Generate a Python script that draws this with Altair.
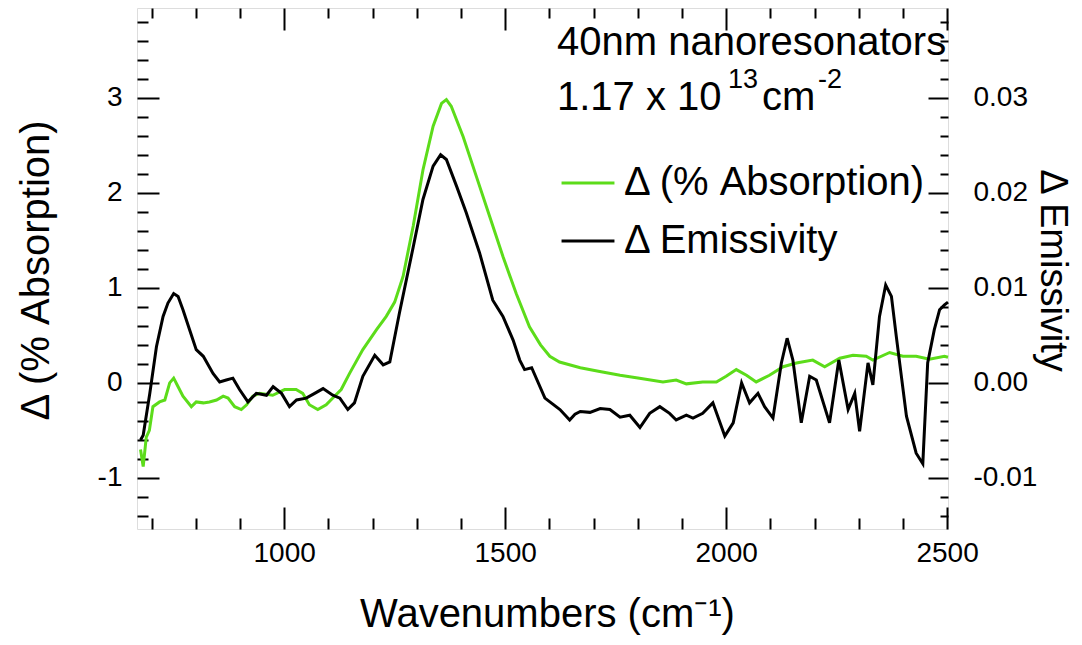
import altair as alt
import pandas as pd

# ---------------- data ----------------
ABS_WN = [675, 681, 688, 695, 703, 718, 730, 741, 750, 760, 771, 790, 801, 817, 831, 847, 862, 873, 888,
          903, 915, 929, 944, 974, 1001, 1027, 1042, 1057, 1076, 1095, 1114, 1129, 1148, 1178, 1209, 1231,
          1250, 1269, 1292, 1314, 1337, 1356, 1367, 1378, 1405, 1435, 1465, 1495, 1525, 1555, 1580, 1601,
          1623, 1670, 1714, 1760, 1804, 1857, 1887, 1910, 1947, 1978, 2000, 2023, 2046, 2068, 2098, 2129,
          2159, 2196, 2223, 2257, 2287, 2317, 2332, 2370, 2400, 2430, 2460, 2494, 2502]
ABS_VAL = [-0.70, -0.88, -0.57, -0.50, -0.25, -0.20, -0.18, 0.00, 0.05, -0.04, -0.14, -0.25, -0.20, -0.21,
           -0.20, -0.18, -0.14, -0.16, -0.25, -0.28, -0.23, -0.14, -0.11, -0.13, -0.07, -0.07, -0.11, -0.23,
           -0.28, -0.23, -0.14, -0.07, 0.10, 0.35, 0.56, 0.70, 0.85, 1.12, 1.65, 2.24, 2.70, 2.94, 2.98, 2.91,
           2.59, 2.17, 1.75, 1.33, 0.94, 0.59, 0.40, 0.28, 0.22, 0.16, 0.12, 0.08, 0.05, 0.01, 0.03, -0.01,
           0.01, 0.01, 0.07, 0.14, 0.08, 0.01, 0.08, 0.17, 0.21, 0.24, 0.17, 0.26, 0.29, 0.28, 0.24, 0.32,
           0.28, 0.28, 0.25, 0.28, 0.27]

EMI_WN = [675, 681, 696, 711, 726, 737, 750, 760, 771, 786, 801, 817, 839, 854, 869, 884, 899, 918, 937,
          960, 975, 994, 1012, 1028, 1050, 1069, 1088, 1110, 1126, 1144, 1159, 1178, 1205, 1224, 1239, 1261,
          1292, 1314, 1337, 1354, 1367, 1390, 1412, 1442, 1472, 1495, 1518, 1533, 1544, 1560, 1590, 1624,
          1646, 1658, 1670, 1692, 1715, 1737, 1760, 1782, 1805, 1827, 1850, 1872, 1887, 1910, 1925, 1947,
          1970, 1997, 2016, 2035, 2053, 2072, 2087, 2106, 2125, 2138, 2151, 2170, 2189, 2204, 2234, 2255,
          2276, 2291, 2302, 2321, 2332, 2347, 2361, 2374, 2385, 2408, 2430, 2445, 2456, 2471, 2483, 2494,
          2502]
EMI_VAL = [-0.0060, -0.0055, -0.0011, 0.0038, 0.0070, 0.0084, 0.0094, 0.0091, 0.0077, 0.0056, 0.0035,
           0.0028, 0.0010, 0.0001, 0.0003, 0.0005, -0.0007, -0.0020, -0.0011, -0.0013, -0.0004, -0.0011,
           -0.0025, -0.0018, -0.0016, -0.0011, -0.0006, -0.0013, -0.0016, -0.0028, -0.0021, 0.0007, 0.0029,
           0.0019, 0.0022, 0.0074, 0.0143, 0.0193, 0.0228, 0.0240, 0.0235, 0.0207, 0.0179, 0.0137, 0.0087,
           0.0070, 0.0045, 0.0024, 0.0014, 0.0016, -0.0016, -0.0028, -0.0039, -0.0033, -0.0030, -0.0031,
           -0.0027, -0.0028, -0.0036, -0.0034, -0.0047, -0.0032, -0.0025, -0.0032, -0.0039, -0.0034,
           -0.0037, -0.0032, -0.0021, -0.0056, -0.0042, 0.0000, -0.0021, -0.0011, -0.0025, -0.0037, 0.0021,
           0.0047, 0.0024, -0.0042, 0.0007, 0.0003, -0.0042, 0.0024, -0.0028, -0.0011, -0.0051, 0.0021,
           -0.0002, 0.0070, 0.0103, 0.0091, 0.0049, -0.0035, -0.0074, -0.0085, 0.0021, 0.0056, 0.0077,
           0.0082, 0.0085]

SERIES = ["\u0394 (% Absorption)", "\u0394 Emissivity"]
COLORS = ["#5cdc1a", "#000000"]

X_DOMAIN = [667, 2502]
YL_DOMAIN = [-1.537, 3.944]
YR_DOMAIN = [-0.01537, 0.03944]

X_MAJOR = [1000, 1500, 2000, 2500]
X_MINOR = [700, 800, 900, 1100, 1200, 1300, 1400, 1600, 1700, 1800, 1900, 2100, 2200, 2300, 2400]
YL_MAJOR = [-1, 0, 1, 2, 3]
YL_MINOR = [-1.4, -1.2, -0.8, -0.6, -0.4, -0.2, 0.2, 0.4, 0.6, 0.8, 1.2, 1.4, 1.6, 1.8,
            2.2, 2.4, 2.6, 2.8, 3.2, 3.4, 3.6, 3.8]
YR_MAJOR = [-0.01, 0.0, 0.01, 0.02, 0.03]

W, H = 811, 521
FONT = "Liberation Sans"
BIG = 40

df_abs = pd.DataFrame({"wn": ABS_WN, "val": ABS_VAL, "series": SERIES[0]})
df_emi = pd.DataFrame({"wn": EMI_WN, "val": EMI_VAL, "series": SERIES[1]})

xs = alt.Scale(domain=X_DOMAIN, nice=False, zero=False)
yl = alt.Scale(domain=YL_DOMAIN, nice=False, zero=False)
yr = alt.Scale(domain=YR_DOMAIN, nice=False, zero=False)
cs = alt.Scale(domain=SERIES, range=COLORS)

legend = alt.Legend(orient="none", legendX=423, legendY=147, title=None, symbolType="stroke",
                    symbolSize=2800, symbolStrokeWidth=3, labelFontSize=BIG, labelFont=FONT,
                    labelColor="black", rowPadding=10, labelOffset=8, labelLimit=600)

green = alt.Chart(df_abs).mark_line(strokeWidth=3).encode(
    x=alt.X("wn:Q", scale=xs, axis=alt.Axis(
        orient="bottom", values=X_MAJOR, format="d", ticks=False, domain=False, grid=False,
        labelFontSize=28, labelFont=FONT, labelColor="black", labelPadding=10, labelFlush=False,
        title="Wavenumbers (cm\u207b\u00b9)", titleFontSize=BIG, titleFont=FONT, titleFontWeight="normal",
        titleColor="black", titleX=410, titleY=97, titleBaseline="alphabetic", titleAlign="center")),
    y=alt.Y("val:Q", scale=yl, axis=alt.Axis(
        orient="left", values=YL_MAJOR, ticks=False, domain=False, grid=False,
        labelFontSize=28, labelFont=FONT, labelColor="black", labelPadding=15,
        labelExpr="datum.value < 0 ? '-' + format(-datum.value, 'd') : format(datum.value, 'd')",
        title="\u0394 (% Absorption)", titleFontSize=BIG, titleFont=FONT, titleFontWeight="normal",
        titleColor="black", titleX=-89, titleY=262, titleAngle=-90, titleBaseline="alphabetic",
        titleAlign="center")),
    color=alt.Color("series:N", scale=cs, legend=legend),
)

black = alt.Chart(df_emi).mark_line(strokeWidth=3).encode(
    x=alt.X("wn:Q", scale=xs, axis=None),
    y=alt.Y("val:Q", scale=yr, axis=alt.Axis(
        orient="right", values=YR_MAJOR, ticks=False, domain=False, grid=False,
        labelFontSize=28, labelFont=FONT, labelColor="black", labelPadding=25,
        labelExpr="datum.value < 0 ? '-' + format(-datum.value, '.2f') : format(datum.value, '.2f')",
        title="\u0394 Emissivity", titleFontSize=38, titleFont=FONT, titleFontWeight="normal",
        titleColor="black", titleX=92, titleY=262, titleAngle=90, titleBaseline="alphabetic",
        titleAlign="center")),
    color=alt.Color("series:N", scale=cs, legend=legend),
)


def tick_layer(x_orient, x_vals, x_size, y_orient, y_vals, y_size):
    xa = alt.Axis(orient=x_orient, offset=-H, values=x_vals, tickSize=x_size, tickWidth=2,
                  tickColor="black", labels=False, domain=False, grid=False, title=None)
    ya = alt.Axis(orient=y_orient, offset=-W, values=y_vals, tickSize=y_size, tickWidth=2,
                  tickColor="black", labels=False, domain=False, grid=False, title=None)
    return alt.Chart(df_abs).mark_line(opacity=0).encode(
        x=alt.X("wn:Q", scale=xs, axis=xa),
        y=alt.Y("val:Q", scale=yl, axis=ya),
    )


t1 = tick_layer("top", X_MAJOR, 22, "right", YL_MAJOR, 22)     # bottom & left, major
t2 = tick_layer("top", X_MINOR, 11, "right", YL_MINOR, 11)     # bottom & left, minor
t3 = tick_layer("bottom", X_MAJOR, 22, "left", YL_MAJOR, 20)   # top & right, major
t4 = tick_layer("bottom", X_MINOR, 10, "left", YL_MINOR, 8)    # top & right, minor

ann = pd.DataFrame({"a": [0]})


def txt(s, x, y, size):
    return alt.Chart(ann).mark_text(text=s, fontSize=size, font=FONT, color="black",
                                    align="left", baseline="alphabetic").encode(
        x=alt.value(x), y=alt.value(y))


texts = [
    txt("40nm nanoresonators", 420, 47, BIG),
    txt("1.17 x 10", 420, 102, BIG),
    txt("13", 591, 80, 27),
    txt("cm", 625, 102, BIG),
    txt("-2", 681, 80, 27),
]

chart = alt.layer(green, black, t1, t2, t3, t4, *texts).resolve_scale(
    x="independent", y="independent", color="shared"
).properties(
    width=W, height=H,
    padding={"left": 129, "top": 0, "right": 126, "bottom": 108},
    autosize=alt.AutoSizeParams(type="none"),
).configure_view(stroke="black", strokeWidth=2).configure(background="white")

chart.save("out.html", embed_options={"renderer": "svg", "actions": False})
